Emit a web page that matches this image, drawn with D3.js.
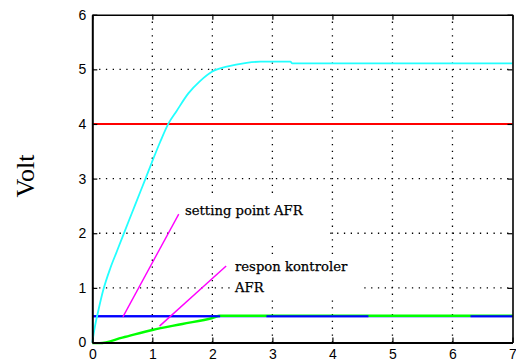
<!DOCTYPE html>
<html>
<head>
<meta charset="utf-8">
<script src="https://cdn.jsdelivr.net/npm/d3@7"></script>
<style>
html,body{margin:0;padding:0;background:#fff;}
svg{display:block;}
</style>
</head>
<body>
<svg id="chart" width="516" height="362"></svg>
<script>
// ---- data ----
const xTicks = [0,1,2,3,4,5,6,7];
const yTicks = [0,1,2,3,4,5,6];
const cyanX = [0,0.045,0.1,0.18,0.3,0.41,0.52,0.66,0.8,0.88,0.99,1.13,1.27,1.4,1.6,1.79,2.0,2.24,2.57,2.8,3.3,3.33,7];
const cyanY = [0,0.3,0.58,0.95,1.36,1.67,1.98,2.37,2.76,2.98,3.29,3.67,4.01,4.23,4.56,4.78,4.96,5.05,5.12,5.14,5.14,5.11,5.11];
const greenX = [0,0.12,0.5,1.0,1.5,2.0,2.13,7];
const greenY = [0,0.0,0.1,0.24,0.35,0.46,0.5,0.5];
const blueX = [0,7];
const blueY = [0.5,0.5];
const blueOverX = [[0,2.13],[2.9,4.6],[6.3,7]];
const redX = [0,7];
const redY = [4,4];
const pointer1X = [0.51,1.44];
const pointer1Y = [0.47,2.35];
const pointer2X = [1.12,2.23];
const pointer2Y = [0.30,1.40];
const label1 = ["setting point AFR"];
const label2 = ["respon kontroler","AFR"];
const yLabel = "Volt";

// ---- layout ----
const svg = d3.select("#chart");
const x = d3.scaleLinear().domain([0,7]).range([92.3,512.5]);
const y = d3.scaleLinear().domain([0,6]).range([342.5,14.7]);
const zip = (xs,ys)=>xs.map((v,i)=>[v,ys[i]]);
const line = d3.line().x(d=>x(d[0])).y(d=>y(d[1]));
const smooth = d3.line().x(d=>x(d[0])).y(d=>y(d[1])).curve(d3.curveMonotoneX);

// grid
const grid = svg.append("g").attr("stroke","#000").attr("stroke-width",1.3).attr("stroke-dasharray","1.3,5.5");
grid.selectAll(".gx").data(xTicks.slice(1,-1)).join("line")
  .attr("x1",d=>x(d)).attr("x2",d=>x(d)).attr("y1",y(0)).attr("y2",y(6));
grid.selectAll(".gy").data(yTicks.slice(1,-1)).join("line")
  .attr("y1",d=>y(d)).attr("y2",d=>y(d)).attr("x1",x(0)).attr("x2",x(7));

// white text boxes (cover grid)
svg.append("rect").attr("x",178).attr("y",197).attr("width",152).attr("height",48).attr("fill","#fff");
svg.append("rect").attr("x",232).attr("y",258).attr("width",128).attr("height",42).attr("fill","#fff");

// series
svg.append("path").attr("d",line(zip(redX,redY))).attr("fill","none").attr("stroke","#ff0000").attr("stroke-width",2);
svg.append("path").attr("d",line(zip(blueX,blueY))).attr("fill","none").attr("stroke","#0000ff").attr("stroke-width",2).attr("transform","translate(0,1.1)");
svg.append("path").attr("d",smooth(zip(greenX,greenY))).attr("fill","none").attr("stroke","#00ff00").attr("stroke-width",2.4).attr("transform","translate(0,0.6)");
blueOverX.forEach(seg=>{
  svg.append("path").attr("d",line([[seg[0],0.5],[seg[1],0.5]])).attr("fill","none").attr("stroke","#0000ff").attr("stroke-width",2).attr("transform","translate(0,1.1)");
});
svg.append("path").attr("d",smooth(zip(cyanX,cyanY))).attr("fill","none").attr("stroke","#22ffff").attr("stroke-width",1.8);
svg.append("path").attr("d",line(zip(pointer1X,pointer1Y))).attr("fill","none").attr("stroke","#ff00ff").attr("stroke-width",1.4);
svg.append("path").attr("d",line(zip(pointer2X,pointer2Y))).attr("fill","none").attr("stroke","#ff00ff").attr("stroke-width",1.4);

// annotation text
const annoFont = {family:"DejaVu Serif", size:13.2};
svg.append("text").attr("x",185).attr("y",215).attr("font-family",annoFont.family).attr("font-size",annoFont.size)
  .attr("fill","#000").attr("stroke","#000").attr("stroke-width",0.25).text(label1[0]);
svg.selectAll(".l2").data(label2).join("text").attr("x",235).attr("y",(d,i)=>271+i*20.7)
  .attr("font-family",annoFont.family).attr("font-size",annoFont.size)
  .attr("fill","#000").attr("stroke","#000").attr("stroke-width",0.25).text(d=>d);

// axes
const fontTick = "Arial, 'Liberation Sans', sans-serif";
const gB = svg.append("g").attr("transform",`translate(0,${y(0)})`)
  .call(d3.axisBottom(x).tickValues(xTicks).tickFormat(d3.format("d")).tickSizeInner(-5).tickSizeOuter(0).tickPadding(6.5));
const gT = svg.append("g").attr("transform",`translate(0,${y(6)})`)
  .call(d3.axisTop(x).tickValues(xTicks).tickFormat("").tickSizeInner(-5).tickSizeOuter(0));
const gL = svg.append("g").attr("transform",`translate(${x(0)},0)`)
  .call(d3.axisLeft(y).tickValues(yTicks).tickFormat(d3.format("d")).tickSizeInner(-5).tickSizeOuter(0).tickPadding(6));
const gR = svg.append("g").attr("transform",`translate(${x(7)},0)`)
  .call(d3.axisRight(y).tickValues(yTicks).tickFormat("").tickSizeInner(-5).tickSizeOuter(0));
[gB,gT,gL,gR].forEach(g=>{
  g.select(".domain").attr("stroke","#000").attr("stroke-width",1.6);
  g.selectAll(".tick line").attr("stroke","#000").attr("stroke-width",1.2);
  g.selectAll(".tick text").attr("font-family",fontTick).attr("font-size",14).attr("fill","#000");
});
gB.select(".domain").attr("stroke-width",2);
gL.select(".domain").attr("stroke-width",2);

// y label
svg.append("text").attr("transform","translate(34,176) rotate(-90)").attr("text-anchor","middle")
  .attr("font-family","'Liberation Serif','Times New Roman',serif").attr("font-size",26).attr("fill","#000").text(yLabel);
</script>
</body>
</html>
